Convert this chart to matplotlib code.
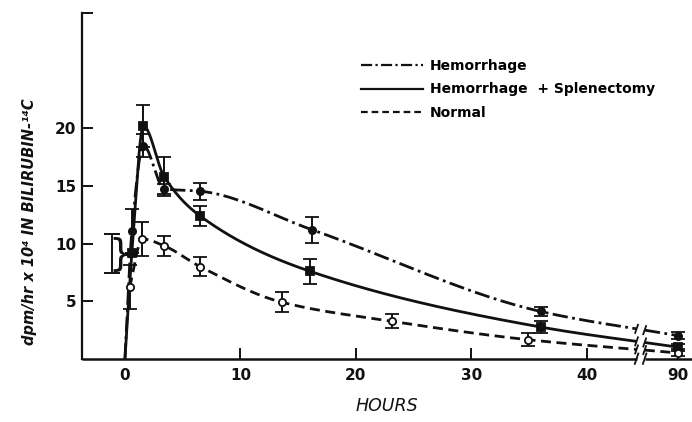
import numpy as np
import matplotlib
matplotlib.use('Agg')
import matplotlib.pyplot as plt
from matplotlib.lines import Line2D

# ---- data ---------------------------------------------------------------
# Hemorrhage + Splenectomy (solid, filled squares)
hs_hours = [0.6, 1.6, 3.4, 6.5, 16.0, 36.0, 90.0]
hs_vals  = [9.2, 20.2, 15.8, 12.4, 7.6, 2.75, 1.0]
hs_err   = [0.0, 1.8, 1.7, 0.9, 1.1, 0.55, 0.3]

# Hemorrhage (dash-dot, filled circles)
h_hours = [0.6, 1.6, 3.4, 6.5, 16.2, 36.0, 90.0]
h_vals  = [11.1, 18.5, 14.75, 14.55, 11.2, 4.1, 2.0]
h_err   = [1.9, 1.0, 0.45, 0.75, 1.15, 0.4, 0.3]

# Normal (dashed, open circles)
n_hours = [0.4, 1.5, 3.4, 6.5, 13.6, 23.1, 34.9, 90.0]
n_vals  = [6.2, 10.4, 9.8, 8.0, 4.9, 3.25, 1.65, 0.5]
n_err   = [1.9, 1.5, 0.9, 0.8, 0.85, 0.6, 0.55, 0.3]

# both hemorrhage curves rise from zero at time 0
start_hour, start_val = 0.0, 0.0

# range bracket drawn left of the origin
range_hour = -1.15
range_lo, range_hi = 7.45, 10.8

xtick_hours  = [0, 10, 20, 30, 40, 90]
ytick_vals   = [5, 10, 15, 20, 30]
ytick_labels = ['5', '10', '15', '20', '']

# ---- axis break: 90 hr is squeezed in after 40 --------------------------
late_hour, late_pos = 90.0, 47.9
gap_lo, gap_hi = 44.3, 45.0


def to_axis(h):
    h = np.asarray(h, float)
    return np.where(h >= late_hour, late_pos, h)


def pchip(x, y, xn):
    # monotone cubic, used only to draw the smooth fitted curve
    x = np.asarray(x, float); y = np.asarray(y, float)
    h = np.diff(x); d = np.diff(y) / h
    m = np.zeros_like(y)
    for k in range(1, len(x) - 1):
        if d[k-1] * d[k] > 0:
            w1 = 2*h[k] + h[k-1]; w2 = h[k] + 2*h[k-1]
            m[k] = (w1 + w2) / (w1/d[k-1] + w2/d[k])
    m[0] = d[0]; m[-1] = d[-1]
    idx = np.clip(np.searchsorted(x, xn) - 1, 0, len(h) - 1)
    t = (xn - x[idx]) / h[idx]
    h00 = 2*t**3 - 3*t**2 + 1; h10 = t**3 - 2*t**2 + t
    h01 = -2*t**3 + 3*t**2;    h11 = t**3 - t**2
    return h00*y[idx] + h10*h[idx]*m[idx] + h01*y[idx+1] + h11*h[idx]*m[idx+1]


plt.rcParams['font.family'] = 'DejaVu Sans'
fig = plt.figure(figsize=(6.92, 4.22), dpi=100)
ax = fig.add_axes([0.1185, 0.150, 0.8815, 0.8185])

ink = '#111111'
lw = 2.0
styles = {
    'h':  dict(ls=(0, (5.5, 1.6, 1.0, 1.6))),
    'hs': dict(ls='-'),
    'n':  dict(ls=(0, (3.6, 2.0))),
}

series = [
    ('h',  h_hours,  h_vals,  h_err,  'o', ink, True),
    ('hs', hs_hours, hs_vals, hs_err, 's', ink, True),
    ('n',  n_hours,  n_vals,  n_err,  'o', 'white', False),
]

for key, hrs, vals, err, mk, face, from_zero in series:
    px = to_axis(hrs)
    cx, cy = list(px), list(vals)
    if from_zero:
        cx = [start_hour] + cx
        cy = [start_val] + cy
    xs = np.linspace(cx[0], cx[-1], 1500)
    ys = pchip(cx, cy, xs)
    ys[(xs > gap_lo) & (xs < gap_hi)] = np.nan
    ax.plot(xs, ys, color=ink, lw=lw, solid_capstyle='butt', **styles[key])
    # little slashes at the break
    for xb in (gap_lo, gap_hi):
        yb = pchip(cx, cy, np.array([xb]))[0]
        ax.plot([xb - 0.12, xb + 0.12], [yb - 0.35, yb + 0.35], color=ink, lw=1.3)
    ax.errorbar(px, vals, yerr=err, fmt=mk, ms=5.5 if mk == 's' else 5.2,
                mfc=face, mec=ink, mew=1.3, ecolor=ink, elinewidth=1.4,
                capsize=5, capthick=1.4, zorder=4)

# range bracket with brace
ax.errorbar([range_hour], [(range_lo + range_hi) / 2], yerr=[(range_hi - range_lo) / 2],
            fmt='none', ecolor=ink, elinewidth=1.4, capsize=6, capthick=1.4)
ax.text(range_hour + 0.75, (range_lo + range_hi) / 2 - 0.1, '}', fontsize=27,
        ha='center', va='center', color=ink)

xmin, xmax = -3.72, 49.1
ax.set_xlim(xmin, xmax)
ax.set_ylim(0, 30)

for s in ['top', 'right', 'bottom']:
    ax.spines[s].set_visible(False)
ax.spines['left'].set_linewidth(1.6)
ax.spines['left'].set_color(ink)

# broken bottom axis
ax.plot([xmin, gap_lo], [0, 0], color=ink, lw=1.8, clip_on=False, solid_capstyle='butt')
ax.plot([gap_hi, xmax], [0, 0], color=ink, lw=1.8, clip_on=False, solid_capstyle='butt')
for xb in (gap_lo, gap_hi):
    ax.plot([xb - 0.15, xb + 0.15], [-0.45, 0.45], color=ink, lw=1.3, clip_on=False)

ax.set_xticks(to_axis(xtick_hours))
ax.set_xticklabels([str(t) for t in xtick_hours])
ax.set_yticks(ytick_vals)
ax.set_yticklabels(ytick_labels)
ax.tick_params(axis='both', direction='in', length=8, width=1.4, color=ink,
               labelsize=11, labelcolor=ink)
ax.tick_params(axis='x', pad=7)
ax.tick_params(axis='y', pad=4)
for lab in ax.get_xticklabels() + ax.get_yticklabels():
    lab.set_fontweight('bold')

fig.text(30/692, 1 - 222/422, 'dpm/hr x 10⁴ IN BILIRUBIN-¹⁴C', rotation=90,
         ha='center', va='center', fontsize=10.5, style='italic',
         fontweight='bold', color=ink)
fig.text(387/692, 1 - 406/422, 'HOURS', ha='center', va='center',
         fontsize=12.5, style='italic', color=ink)

handles = [Line2D([], [], color=ink, lw=1.6, ls=(0, (5, 1.5, 1.0, 1.5))),
           Line2D([], [], color=ink, lw=1.6, ls='-'),
           Line2D([], [], color=ink, lw=1.6, ls=(0, (3, 1.8)))]
labels = ['Hemorrhage', 'Hemorrhage  + Splenectomy', 'Normal']
leg = ax.legend(handles, labels, loc='upper left', bbox_to_anchor=(354/692, 1 - 52/422),
                bbox_transform=fig.transFigure, frameon=False, borderpad=0,
                handlelength=4.5, handletextpad=0.45, labelspacing=0.68,
                prop={'size': 10, 'weight': 'bold'})

fig.savefig('out.png', dpi=100, facecolor='white')
